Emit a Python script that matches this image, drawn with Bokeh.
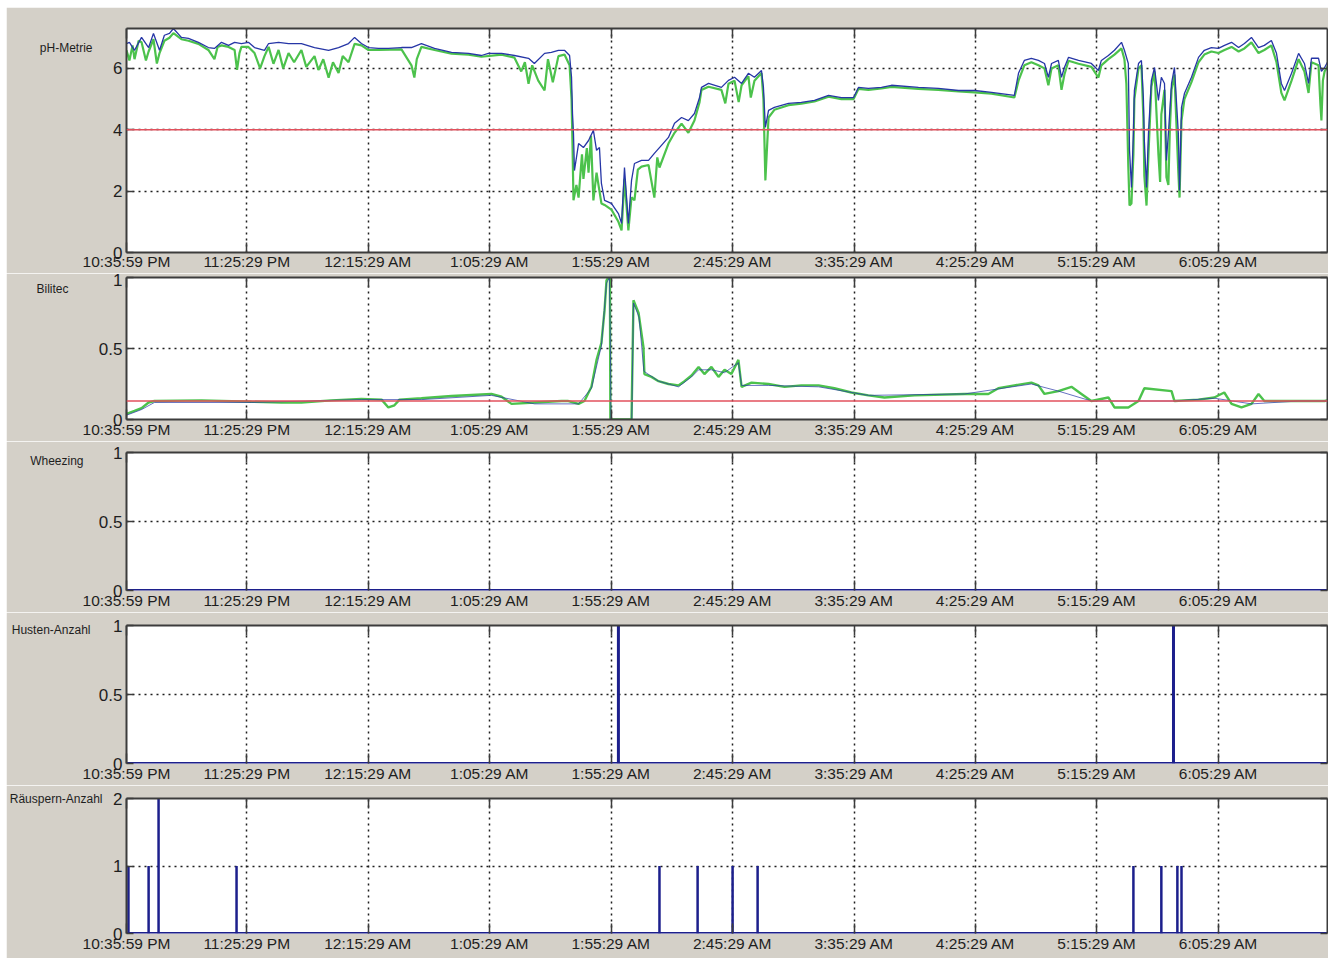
from bokeh.plotting import figure
from bokeh.layouts import column, row
from bokeh.models import FixedTicker, LinearAxis, Range1d, Span, Spacer
from bokeh.embed import file_html
from bokeh.resources import INLINE

# ---------------- data (time in minutes after 10:35:59 PM) ----------------
x_start, x_end = 0, 494.4
tick_minutes = [0, 49.5, 99.5, 149.5, 199.5, 249.5, 299.5, 349.5, 399.5, 449.5]
tick_labels = ["10:35:59 PM", "11:25:29 PM", "12:15:29 AM", "1:05:29 AM", "1:55:29 AM",
               "2:45:29 AM", "3:35:29 AM", "4:25:29 AM", "5:15:29 AM", "6:05:29 AM"]

ph_threshold = 4.0
bilitec_threshold = 0.13

ph_blue_t = [0, 1.2, 3.3, 6.2, 9.1, 11.1, 13.6, 15.6, 17.7, 19.3, 22.6, 25.5, 29.6, 33.7, 36.2, 39.1, 42.0, 44.5,
             47.3, 50.2, 52.7, 56.8, 58.5, 62.6, 66.7, 72.0, 77.4, 83.2, 87.3, 91.4, 93.9, 96.7, 99.6, 103.7,
             107.8, 113.2, 117.3, 121.4, 126.8, 133.8, 140.8, 146.1, 149.0, 154.4, 159.7, 165.5, 167.9, 172.1,
             174.9, 177.8, 180.3, 182.4, 183.2, 183.6, 184.0, 184.4, 186.1, 188.1, 190.2, 192.2, 193.5, 194.7,
             195.5, 196.8, 199.6, 202.5, 203.8, 205.0, 206.6, 207.9, 209.1, 212.0, 214.9, 217.3, 219.4, 223.1,
             225.6, 228.5, 231.3, 233.8, 235.9, 236.7, 239.6, 244.9, 247.8, 250.3, 253.2, 256.0, 258.5, 261.4,
             262.2, 263.0, 264.3, 266.7, 272.5, 277.8, 283.2, 289.0, 294.3, 299.3, 301.3, 305.4, 310.8, 314.9,
             326.0, 334.2, 342.5, 349.1, 356.1, 365.5, 367.2, 369.6, 372.5, 375.4, 377.9, 379.5, 380.8, 383.6,
             384.9, 386.1, 387.8, 391.9, 397.2, 400.1, 401.3, 404.2, 406.7, 409.6, 410.8, 412.4, 412.9, 413.7,
             414.5, 414.9, 416.6, 417.8, 418.6, 419.0, 419.9, 420.7, 421.9, 423.2, 424.8, 426.0, 427.3, 428.1,
             428.9, 430.2, 431.4, 433.0, 433.5, 434.3, 435.5, 438.4, 441.3, 443.7, 446.6, 449.5, 452.0, 454.9,
             457.8, 460.2, 463.1, 466.0, 468.4, 471.3, 473.4, 475.4, 476.7, 479.6, 482.5, 484.9, 486.6, 487.8,
             490.7, 491.9, 493.2, 494.8]
ph_blue = [6.81, 6.85, 6.59, 7.01, 6.68, 7.14, 6.59, 7.08, 7.14, 7.30, 7.01, 6.98, 6.85, 6.68, 6.65, 6.85, 6.75, 6.85,
           6.81, 6.85, 6.68, 6.59, 6.81, 6.85, 6.81, 6.81, 6.68, 6.59, 6.68, 6.81, 7.01, 6.81, 6.68, 6.65,
           6.65, 6.68, 6.68, 6.81, 6.65, 6.52, 6.49, 6.42, 6.49, 6.49, 6.42, 6.33, 6.16, 6.49,
           6.52, 6.59, 6.59, 6.42, 5.71, 4.53, 3.88, 2.67, 3.55, 3.42, 3.65, 3.98, 3.33, 3.42,
           2.25, 1.70, 1.60, 1.27, 0.95, 2.77, 0.95, 2.35, 2.90, 3.00, 3.00, 3.23, 3.42, 3.75,
           4.21, 4.40, 4.30, 4.53, 5.05, 5.38, 5.51, 5.38, 5.61, 5.71, 5.51, 5.84, 5.71, 5.93,
           5.38, 4.08, 4.63, 4.73, 4.86, 4.89, 4.96, 5.12, 5.05, 5.05, 5.38, 5.35, 5.38, 5.45,
           5.38, 5.35, 5.28, 5.28, 5.22, 5.12, 5.84, 6.26, 6.33, 6.26, 6.16, 5.71, 6.16, 6.26,
           5.71, 6.03, 6.36, 6.26, 6.16, 5.93, 6.26, 6.42, 6.59, 6.85, 6.59, 6.16, 3.33, 2.12,
           3.88, 5.28, 6.16, 6.26, 5.05, 3.65, 2.12, 3.88, 5.61, 6.03, 4.96, 5.71, 5.51, 3.00,
           3.88, 5.51, 6.03, 3.88, 2.02, 4.73, 5.18, 5.71, 6.36, 6.59, 6.68, 6.65, 6.75, 6.85,
           6.68, 6.81, 7.01, 6.68, 6.75, 6.91, 6.49, 5.51, 5.28, 5.84, 6.49, 6.16, 5.51, 6.33,
           6.33, 5.90, 6.03, 6.26]

ph_green_t = [0, 1.2, 2.5, 3.3, 5.0, 6.2, 8.0, 9.1, 11.1, 12.5, 13.6, 15.6, 17.7, 19.3, 22.6, 25.5, 29.6, 33.7,
              36.2, 37.5, 39.1, 42.0, 44.5, 45.5, 46.5, 47.3, 50.2, 52.7, 55.0, 56.8, 58.5, 60.5, 62.6, 64.5,
              66.7, 69.0, 72.0, 74.0, 77.4, 79.0, 81.0, 83.2, 85.0, 87.3, 89.0, 91.4, 93.9, 96.7, 99.6, 103.7,
              113.2, 117.3, 118.5, 119.5, 121.4, 126.8, 133.8, 140.8, 146.1, 154.4, 159.7, 162.5, 164.0, 165.5,
              167.0, 169.5, 172.1, 173.5, 175.5, 177.8, 180.3, 182.4, 183.2, 183.6, 184.0, 185.2, 186.1, 187.5,
              188.1, 189.5, 190.2, 191.2, 192.2, 193.5, 194.7, 195.5, 196.8, 199.6, 202.5, 203.8, 205.0, 206.6,
              207.9, 209.1, 210.5, 212.0, 214.9, 217.3, 218.5, 219.4, 223.1, 225.6, 228.5, 231.3, 233.8, 235.9,
              236.7, 239.6, 244.9, 246.5, 247.8, 250.3, 252.0, 253.2, 256.0, 257.0, 258.5, 261.4, 262.2, 263.0,
              264.3, 266.7, 272.5, 277.8, 283.2, 289.0, 294.3, 299.3, 301.3, 305.4, 310.8, 314.9, 326.0, 334.2,
              342.5, 349.1, 356.1, 365.5, 367.2, 369.6, 372.5, 375.4, 377.9, 379.5, 380.8, 383.6, 384.9, 386.1,
              387.8, 391.9, 397.2, 400.1, 401.3, 404.2, 406.7, 409.6, 410.8, 411.6, 412.4, 412.9, 413.7, 414.5,
              414.9, 416.6, 417.8, 418.6, 419.0, 419.9, 420.7, 421.9, 423.2, 424.8, 425.5, 426.0, 427.3, 428.1,
              428.9, 429.5, 430.2, 431.4, 433.0, 433.5, 434.3, 435.5, 438.4, 441.3, 443.7, 446.6, 449.5, 452.0,
              454.9, 457.8, 460.2, 463.1, 466.0, 468.4, 471.3, 473.4, 475.4, 476.7, 479.6, 482.5, 484.9, 486.6,
              487.8, 490.7, 491.5, 491.9, 492.5, 493.2, 494.8]
ph_green = [6.59, 6.26, 6.75, 6.30, 6.90, 6.85, 6.26, 6.55, 6.95, 6.16, 6.50, 6.90, 7.00, 7.15, 6.95, 6.90, 6.80, 6.60,
            6.30, 6.70, 6.75, 6.70, 6.60, 5.95, 6.50, 6.70, 6.70, 6.50, 6.00, 6.40, 6.70, 6.15, 6.60, 6.00,
            6.50, 6.20, 6.60, 6.05, 6.40, 5.95, 6.30, 5.70, 6.20, 5.85, 6.40, 6.20, 6.80, 6.75, 6.60, 6.60,
            6.62, 6.10, 5.70, 6.30, 6.70, 6.60, 6.48, 6.45, 6.38, 6.45, 6.35, 5.90, 6.20, 5.50,
            6.10, 5.60, 5.28, 6.30, 5.55, 6.40, 6.45, 6.10, 5.00, 3.50, 1.70, 2.20, 1.79, 3.20,
            2.40, 3.40, 2.60, 3.80, 1.70, 2.60, 2.00, 1.60, 1.55, 1.40, 1.00, 0.72, 2.40, 0.72,
            1.80, 1.70, 2.70, 2.80, 2.85, 1.79, 3.10, 2.77, 3.55, 3.90, 4.20, 3.90, 4.30, 4.90,
            5.30, 5.40, 5.30, 4.86, 5.50, 5.60, 4.90, 5.45, 5.75, 5.05, 5.60, 5.85, 5.00, 2.35,
            4.40, 4.65, 4.80, 4.85, 4.92, 5.08, 5.00, 5.00, 5.33, 5.30, 5.35, 5.40, 5.33, 5.30,
            5.25, 5.22, 5.18, 5.05, 5.60, 6.10, 6.20, 6.10, 6.00, 5.45, 6.00, 6.10, 5.30, 5.80,
            6.25, 6.15, 6.05, 5.70, 6.10, 6.30, 6.45, 6.65, 6.30, 5.50, 2.80, 1.53, 1.60, 3.20,
            5.00, 6.00, 6.10, 4.40, 2.50, 1.53, 3.20, 5.40, 5.90, 3.20, 2.30, 4.50, 5.30, 2.45,
            2.20, 4.00, 5.30, 5.80, 2.60, 1.79, 4.30, 5.00, 5.55, 6.20, 6.45, 6.55, 6.50, 6.60,
            6.70, 6.55, 6.65, 6.85, 6.50, 6.60, 6.75, 6.20, 5.20, 4.96, 5.60, 6.30, 5.90, 5.20,
            6.20, 6.10, 4.80, 4.30, 5.60, 5.90, 6.10]

bili_green_t = [0, 3.3, 6.2, 9.1, 11.5, 30.9, 51.5, 63.8, 72.0, 84.4, 96.7, 105.0, 107.8, 110.3, 112.4, 121.4,
                133.8, 150.2, 154.4, 158.5, 168.0, 179.1, 181.9, 186.1, 188.5, 191.4, 193.5, 195.5, 196.8, 197.6,
                198.4, 199.0, 199.2, 207.9, 208.7, 210.8, 212.8, 213.2, 216.1, 219.0, 223.1, 227.2, 229.7, 232.6,
                235.5, 237.9, 240.8, 243.7, 246.2, 249.0, 251.9, 253.2, 257.3, 264.3, 270.9, 277.8, 284.9, 291.4,
                298.4, 305.4, 312.0, 324.4, 345.0, 354.8, 358.9, 365.5, 372.5, 375.4, 377.9, 383.6, 389.0, 393.1,
                397.2, 404.2, 406.7, 412.4, 416.6, 419.0, 430.2, 431.4, 441.3, 447.8, 451.9, 454.9, 459.0, 463.1,
                466.0, 468.4, 475.4, 482.5, 493.2, 494.4]
bili_green = [0.04, 0.06, 0.08, 0.12, 0.13, 0.135, 0.125, 0.12, 0.12, 0.135, 0.145, 0.14, 0.085, 0.10, 0.14, 0.15,
              0.165, 0.18, 0.16, 0.11, 0.12, 0.13, 0.13, 0.11, 0.13, 0.23, 0.42, 0.54, 0.77, 0.98,
              1.0, 1.0, 0.0, 0.0, 0.84, 0.75, 0.51, 0.32, 0.30, 0.27, 0.25, 0.24, 0.27, 0.31,
              0.37, 0.32, 0.37, 0.30, 0.35, 0.32, 0.42, 0.23, 0.26, 0.25, 0.23, 0.24, 0.24, 0.22,
              0.19, 0.17, 0.155, 0.17, 0.18, 0.18, 0.22, 0.24, 0.26, 0.24, 0.18, 0.20, 0.23, 0.18,
              0.13, 0.155, 0.085, 0.085, 0.13, 0.22, 0.20, 0.13, 0.14, 0.155, 0.19, 0.11, 0.085, 0.11,
              0.18, 0.13, 0.13, 0.13, 0.13, 0.135]

bili_blue_t = [0, 6.2, 11.5, 51.5, 96.7, 121.4, 150.2, 168.0, 186.1, 191.4, 195.5, 197.6, 198.8, 199.2, 199.4,
               207.6, 208.0, 208.7, 211.0, 213.0, 219.0, 227.2, 232.6, 235.5, 240.8, 246.2, 251.9, 253.2, 264.3,
               284.9, 305.4, 345.0, 372.5, 383.6, 397.2, 416.6, 431.4, 447.8, 463.1, 482.5, 494.4]
bili_blue = [0.03, 0.07, 0.12, 0.12, 0.14, 0.14, 0.17, 0.11, 0.11, 0.22, 0.52, 0.96, 1.0, 0.54, 0.0,
             0.0, 0.0, 0.82, 0.72, 0.34, 0.27, 0.23, 0.30, 0.35, 0.35, 0.33, 0.40, 0.24, 0.24,
             0.23, 0.17, 0.18, 0.25, 0.20, 0.13, 0.13, 0.13, 0.15, 0.11, 0.13, 0.13]

wheezing_t = [0, 494.4]
wheezing_n = [0, 0]

husten_t = [202.5, 431.0]
husten_n = [1, 1]

raeuspern_t = [0.8, 9.1, 13.2, 45.3, 219.4, 235.1, 249.5, 259.8, 414.5, 426.0, 432.6, 434.3]
raeuspern_n = [1, 1, 2, 1, 1, 1, 1, 1, 1, 1, 1, 1]

# ---------------- styling ----------------
BG = "#d4d0c8"
FONT = "Liberation Sans"
TXT = "#1e1e1e"
FRAME = "#3c3c3c"
GRID = "#1e1e1e"
BLUE = "#2636a6"
NAVY = "#1c1f8c"
GREEN = "#4cc24c"
RED = "#e2505c"

FRAME_W = 1201


def make_panel(title, title_y, title_standoff, ymax, yticks, ylabels, frame_h, top, bottom, standoff,
               blue_bottom):
    p = figure(frame_width=FRAME_W, frame_height=frame_h,
               x_range=Range1d(x_start, x_end), y_range=Range1d(0, ymax),
               output_backend="svg", toolbar_location=None,
               min_border_left=119, min_border_right=2, min_border_top=top, min_border_bottom=bottom,
               background_fill_color="white", border_fill_color=BG, outline_line_color=None)

    xa = p.xaxis[0]
    xa.ticker = FixedTicker(ticks=tick_minutes)
    xa.major_label_overrides = {t: l for t, l in zip(tick_minutes, tick_labels)}
    ya = p.yaxis[0]
    ya.ticker = FixedTicker(ticks=yticks)
    ya.major_label_overrides = {t: l for t, l in zip(yticks, ylabels)}

    top_ax = LinearAxis(ticker=FixedTicker(ticks=tick_minutes), major_label_text_font_size="1px",
                        major_label_text_color=None, major_label_standoff=0)
    right_ax = LinearAxis(ticker=FixedTicker(ticks=yticks), major_label_text_font_size="1px",
                          major_label_text_color=None, major_label_standoff=0)
    p.add_layout(top_ax, "above")
    p.add_layout(right_ax, "right")

    for ax in (xa, ya, top_ax, right_ax):
        ax.axis_line_color = FRAME
        ax.axis_line_width = 2
        ax.major_tick_line_color = FRAME
        ax.major_tick_line_width = 1.5
        ax.major_tick_out = 0
        ax.minor_tick_in = 0
        ax.minor_tick_out = 0
        ax.major_label_text_font = FONT
    for ax in (xa, top_ax):
        ax.major_tick_in = 10
    for ax in (ya, right_ax):
        ax.major_tick_in = 7
    xa.major_label_text_color = TXT
    ya.major_label_text_color = TXT
    xa.major_label_text_font_size = "15.5px"
    xa.major_label_standoff = standoff
    ya.major_label_text_font_size = "17px"
    ya.major_label_standoff = 4
    if blue_bottom:
        xa.axis_line_color = None

    # panel title: an outer left axis carrying the channel name at the height it is printed
    title_ax = LinearAxis(ticker=FixedTicker(ticks=[title_y]), major_label_overrides={title_y: title},
                          axis_line_color=None, major_tick_line_color=None, minor_tick_line_color=None,
                          major_tick_in=0, major_tick_out=0, minor_tick_in=0, minor_tick_out=0,
                          major_label_standoff=title_standoff, major_label_text_font=FONT,
                          major_label_text_font_size="12px", major_label_text_color=TXT)
    p.add_layout(title_ax, "left")

    p.xgrid.ticker = FixedTicker(ticks=tick_minutes)
    p.ygrid.ticker = FixedTicker(ticks=yticks)
    for g in (p.xgrid, p.ygrid):
        g.grid_line_color = GRID
        g.grid_line_dash = "2 4"
        g.grid_line_width = 1.5
    return p


# pH-Metrie
p1 = make_panel("pH-Metrie", 6.68, 18, 7.3, [0, 2, 4, 6], ["0", "2", "4", "6"], 224, 21, 21, 0, False)
p1.line(ph_green_t, ph_green, line_color=GREEN, line_width=2.2)
p1.line(ph_blue_t, ph_blue, line_color=BLUE, line_width=1.3)
p1.add_layout(Span(location=ph_threshold, dimension="width", line_color=RED, line_width=1.6))

# Bilitec
p2 = make_panel("Bilitec", 0.92, 27, 1, [0, 0.5, 1], ["0", "0.5", "1"], 142, 4, 22, 1, False)
p2.add_layout(Span(location=bilitec_threshold, dimension="width", line_color=RED, line_width=1.6))
p2.line(bili_green_t, bili_green, line_color=GREEN, line_width=2.4)
p2.line(bili_blue_t, bili_blue, line_color=BLUE, line_width=1.0, line_alpha=0.7)

# Wheezing
p3 = make_panel("Wheezing", 0.94, 12, 1, [0, 0.5, 1], ["0", "0.5", "1"], 138, 11, 22, 1, True)
p3.line(wheezing_t, wheezing_n, line_color=NAVY, line_width=3)

# Husten-Anzahl
p4 = make_panel("Husten-Anzahl", 0.97, 5, 1, [0, 0.5, 1], ["0", "0.5", "1"], 138, 13, 22, 1, True)
p4.line([x_start, x_end], [0, 0], line_color=NAVY, line_width=3)
p4.segment(x0=husten_t, y0=[0] * len(husten_t), x1=husten_t, y1=husten_n, line_color=NAVY, line_width=3)

# Räuspern-Anzahl
p5 = make_panel("Räuspern-Anzahl", 2.0, 8, 2, [0, 1, 2], ["0", "1", "2"], 135, 13, 25, 1, True)
p5.line([x_start, x_end], [0, 0], line_color=NAVY, line_width=3)
p5.segment(x0=raeuspern_t, y0=[0] * len(raeuspern_t), x1=raeuspern_t, y1=raeuspern_n,
           line_color=NAVY, line_width=2.5)

layout = row(Spacer(width=6, height=958),
             column(Spacer(width=1322, height=7), p1, p2, p3, p4, p5, spacing=0),
             spacing=0)

open("out.html", "w").write(file_html(layout, INLINE))
